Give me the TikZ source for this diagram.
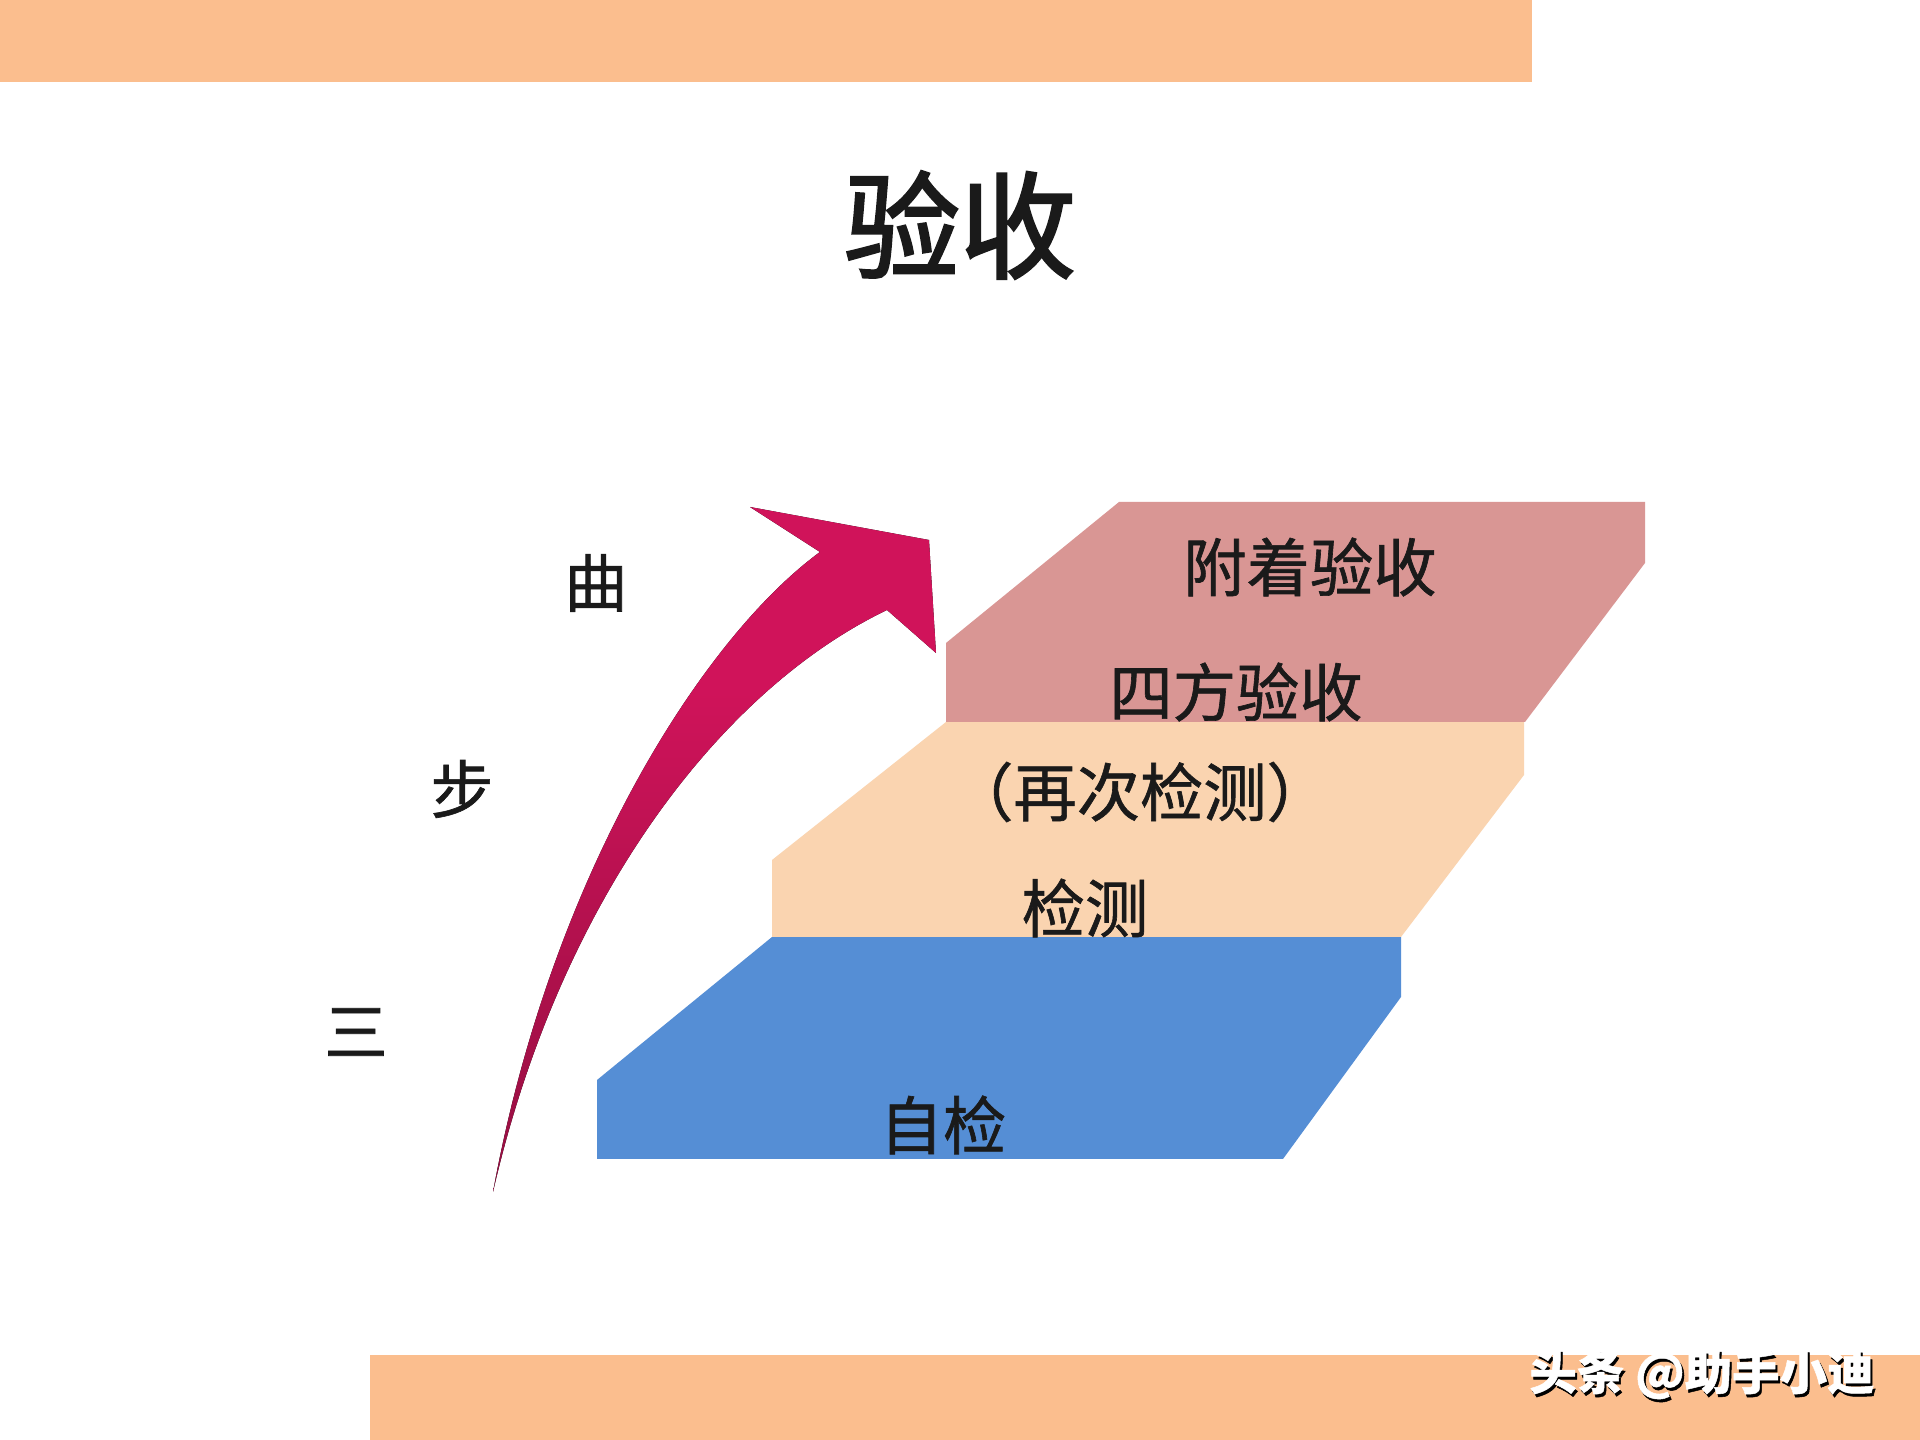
\documentclass[tikz,border=0pt]{standalone}
\usepackage{fontspec}
\usepackage{xcolor}
\usepackage{tikz}
\newfontfamily\cjk[FakeBold=1]{Noto Sans CJK SC}
\newfontfamily\cjkhead[FakeBold=2.2]{Noto Sans CJK SC}
\definecolor{band}{HTML}{FBBE8E}
\definecolor{stepblue}{HTML}{558ED5}
\definecolor{steppeach}{HTML}{FAD4B0}
\definecolor{steppink}{HTML}{D99694}
\definecolor{arrowhi}{HTML}{D0135A}
\definecolor{arrowlo}{HTML}{5E0A2A}
\definecolor{ink}{HTML}{1A1A1A}
\pgfdeclareverticalshading{arrowfade}{100bp}{color(0bp)=(arrowlo); color(30bp)=(arrowlo!45!arrowhi); color(62bp)=(arrowhi); color(100bp)=(arrowhi)}

\begin{document}
\begin{tikzpicture}[x=0.01cm, y=-0.01cm,
  lbl/.style={font=\cjk\fontsize{18}{18}\selectfont, text=ink, inner sep=0pt},
  wmark/.style={font=\cjk\bfseries\fontsize{13.5}{13.5}\selectfont, inner sep=0pt}]
  \fill[white] (0,0) rectangle (1920,1440);
  \useasboundingbox (0,0) rectangle (1920,1440);
  \fill[band] (0,0) rectangle (1532,82);
  \fill[band] (370,1355) rectangle (1920,1440);
  \node[font=\cjkhead\fontsize{33}{33}\selectfont, text=ink, inner sep=0pt] (title) at (960,225) {验收};
  % the three steps
  \fill[stepblue] (597,1159) -- (597,1080) -- (772,937) -- (1401,937) -- (1401,997) -- (1283,1159) -- cycle;
  \fill[steppeach] (772,937) -- (772,860) -- (946,722) -- (1524,722) -- (1524,775) -- (1401,937) -- cycle;
  \fill[steppink] (946,722) -- (946,643) -- (1119,502) -- (1645,502) -- (1645,563) -- (1525,722) -- cycle;
  \node[lbl] (fuzhuo) at (1310,567) {附着验收};
  \node[lbl] (sifang) at (1236,692) {四方验收};
  \node[lbl] (zaici) at (1140,792) {（再次检测）};
  \node[lbl] (jiance) at (1085,908) {检测};
  \node[lbl] (zijian) at (943,1125) {自检};
  % curved arrow
  \fill[shading=arrowfade]
    (493,1192) .. controls (550,880) and (700,640) .. (820,552)
    -- (750,507) -- (929,540) -- (936,653) -- (887,610)
    .. controls (720,690) and (560,900) .. (493,1192) -- cycle;
  \node[lbl] (qu) at (596,583) {曲};
  \node[lbl] (bu) at (462,789) {步};
  \node[lbl] (san) at (356,1032) {三};
  % watermark
  \node[wmark, text=black] (markshadow) at (1704,1377) {头条 @助手小迪};
  \node[wmark, text=white] (marktext) at (1702,1374) {头条 @助手小迪};
\end{tikzpicture}
\end{document}
